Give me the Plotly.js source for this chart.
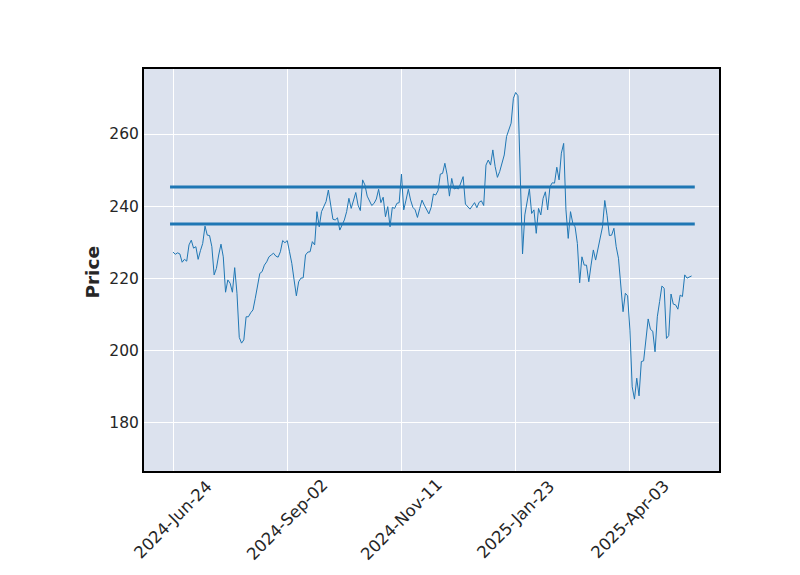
<!DOCTYPE html>
<html>
<head>
<meta charset="utf-8">
<script src="https://cdn.plot.ly/plotly-3.0.1.min.js"></script>
<style>html,body{margin:0;padding:0;background:#fff;}#chart{width:800px;height:575px;}</style>
</head>
<body>
<div id="chart"></div>
<script>
// Closing prices, one per trading day (index-based x axis)
const prices = [
227.3,226.7,227.1,226.8,224.5,225.3,224.8,229.3,230.6,228.4,
228.8,225.3,227.7,229.7,234.5,232.0,231.9,228.8,221.0,222.8,
226.5,229.5,226.0,216.2,219.6,218.7,216.2,223.0,215.9,203.7,
202.1,203.0,209.4,209.4,210.5,211.3,214.5,218.2,221.4,221.9,
223.7,224.6,226.0,226.5,227.0,226.2,225.9,227.4,230.5,229.9,
230.5,227.4,224.2,219.6,215.2,219.1,220.1,220.2,226.5,227.3,
227.4,230.2,229.3,238.5,234.3,238.5,240.1,241.3,244.5,240.3,
236.4,236.2,236.8,233.4,234.8,236.2,238.5,242.2,239.4,242.0,
243.8,240.3,238.8,247.3,245.9,242.8,241.7,240.2,240.8,242.0,
244.7,241.0,242.5,237.1,239.9,234.3,239.7,239.4,240.8,241.0,
248.9,239.0,241.7,244.7,241.7,239.7,239.0,236.9,239.4,241.7,
240.3,239.0,237.9,239.7,243.4,243.1,244.3,248.9,249.1,251.9,
248.7,242.8,247.7,244.8,245.0,244.8,246.4,248.2,240.6,239.9,
239.2,240.1,241.0,239.6,241.1,241.5,240.2,251.4,252.8,251.4,
255.6,251.0,248.0,249.6,251.9,254.2,259.3,260.9,263.0,269.9,
271.5,270.6,249.0,226.8,237.6,240.8,244.8,238.0,239.0,232.5,
239.4,237.6,242.2,244.0,239.0,245.4,246.5,246.4,250.8,247.3,
254.7,257.4,239.0,231.1,238.5,235.3,234.3,229.7,218.8,226.0,
223.7,223.7,219.1,223.7,227.9,225.1,227.9,230.7,234.3,241.6,
237.5,231.9,232.0,233.9,228.8,225.6,217.7,210.8,215.9,215.2,
205.7,190.0,186.6,192.4,187.5,197.0,197.2,203.0,208.8,205.9,
205.4,199.7,209.4,213.6,217.9,217.3,203.4,204.2,215.7,212.9,
212.7,211.5,215.4,215.0,221.0,220.1,220.3,220.7
];
// Horizontal reference levels
const hlineLevels = [245.3, 235.1];
// X tick labels at trading-day indices
const tickIndex = [0, 50, 100, 150, 200];
const tickLabels = ["2024-Jun-24", "2024-Sep-02", "2024-Nov-11", "2025-Jan-23", "2025-Apr-03"];
const yTicks = [180, 200, 220, 240, 260];

const idx = prices.map((_, i) => i);
const n = prices.length;
const traces = [];
hlineLevels.forEach(v => {
  traces.push({
    x: [-1.3, n - 1 + 1.4], y: [v, v], mode: 'lines',
    line: {color: '#1f77b4', width: 3}, hoverinfo: 'skip', showlegend: false
  });
});
traces.push({
  x: idx, y: prices, mode: 'lines',
  line: {color: '#1f77b4', width: 1}, showlegend: false
});

const textColor = '#262626';
const annotations = tickIndex.map((t, i) => ({
  x: t, xref: 'x', y: -0.12, yref: 'paper',
  text: tickLabels[i], showarrow: false, textangle: -45,
  xanchor: 'center', yanchor: 'middle',
  font: {family: 'DejaVu Sans', size: 16.5, color: textColor}
}));
annotations.push({
  x: -0.0887, xref: 'paper', y: 0.496, yref: 'paper',
  text: '<b>Price</b>', showarrow: false, textangle: -90,
  xanchor: 'center', yanchor: 'middle',
  font: {family: 'DejaVu Sans', size: 18.5, color: textColor}
});

const layout = {
  width: 800, height: 575,
  margin: {l: 144, r: 81, t: 69, b: 104, pad: 0},
  paper_bgcolor: '#ffffff',
  plot_bgcolor: '#dce2ee',
  font: {family: 'DejaVu Sans', size: 15.5, color: textColor},
  xaxis: {
    range: [-12.7, 239.0],
    tickmode: 'array', tickvals: tickIndex, showticklabels: false,
    showgrid: true, gridcolor: '#ffffff', gridwidth: 1,
    zeroline: false,
    showline: true, linecolor: '#000000', linewidth: 2, mirror: true,
    ticks: ''
  },
  yaxis: {
    range: [166.7, 278.0],
    tickmode: 'array', tickvals: yTicks,
    showgrid: true, gridcolor: '#ffffff', gridwidth: 1,
    zeroline: false,
    showline: true, linecolor: '#000000', linewidth: 2, mirror: true,
    ticks: '', tickfont: {family: 'DejaVu Sans', size: 15.5, color: textColor}
  },
  annotations: annotations
};
Plotly.newPlot('chart', traces, layout, {displayModeBar: false, staticPlot: true});
</script>
</body>
</html>
